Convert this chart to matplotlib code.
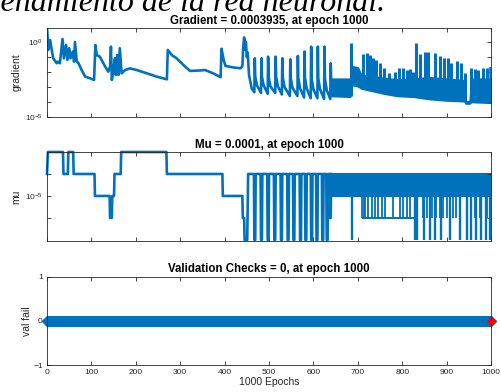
"""
Training state plot (gradient, mu, validation checks) - nntraintool style.
"""
import numpy as np
import matplotlib
matplotlib.use('Agg')
import matplotlib.pyplot as plt

plt.rcParams['font.family'] = ['Liberation Sans', 'DejaVu Sans']
plt.rcParams['mathtext.fontset'] = 'custom'
plt.rcParams['mathtext.rm'] = 'Liberation Sans'
plt.rcParams['mathtext.it'] = 'Liberation Sans:italic'
plt.rcParams['mathtext.bf'] = 'Liberation Sans:bold'

BLUE = '#0072BD'
GREY = '#262626'

# ---- gradient (log10 values) ----
grad_epoch = [0, 3, 7, 10, 14, 22, 25, 29, 35, 38, 43, 46, 50, 53, 58, 61, 63, 67, 71,
              78, 86, 97, 106, 109, 112, 119, 131, 138, 142, 144, 146, 149, 153, 155,
              158, 161, 164, 168, 176, 187, 202, 225, 247, 270, 272, 281, 292, 307,
              322, 345, 356, 375, 391, 393, 398, 402, 420, 436, 440, 442, 444, 446,
              448, 450, 452, 455, 461,
              467, 468, 469, 473, 482, 483, 484, 488, 497, 498, 499, 503, 514, 515,
              516, 520, 529, 530, 531, 535, 547, 548, 549, 553, 564, 565, 566, 570,
              579, 580, 581, 585, 594, 595, 596, 600, 609, 610, 611, 615, 624, 625,
              626, 630, 638, 639, 640]
grad_log = [1.02, -0.53, 0.13, -0.42, -1.09, -1.42, -1.31, -1.42, 0.2, -1.09, -0.2,
            -1.2, -0.42, -1.09, -0.64, -1.31, 0.0, -1.31, -1.42, -1.87, -2.31, -2.42,
            -2.53, -0.2, -0.87, -0.98, -1.64, -1.98, -1.64, -0.31, -2.53, -1.98, -1.09,
            -2.2, -0.87, -2.2, -0.42, -2.09, -1.87, -1.76, -1.87, -2.09, -2.31, -2.49,
            -0.53, -0.87, -1.09, -1.53, -1.93, -1.9, -1.87, -2.1, -2.35, -0.45, -1.2,
            -1.6, -1.7, -1.75, -1.6, -0.35, 0.3, -0.5, 0.0, -1.0, -0.7, -2.2, -3.1,
            -3.35, -1.09, -2.3, -2.9, -3.4, -1.09, -2.3, -2.9, -3.45, -0.98, -2.3,
            -2.95, -3.4, -0.98, -2.3, -2.95, -3.5, -1.09, -2.35, -3.0, -3.6, -1.16,
            -2.4, -3.05, -3.6, -0.93, -2.4, -3.1, -3.7, -0.64, -2.4, -3.1, -3.75,
            -0.31, -2.45, -3.15, -3.75, -0.31, -2.45, -3.15, -3.8, -0.31, -2.45,
            -3.2, -3.8, -1.42, -2.5]

# dense oscillation band after epoch 640
grad_band_epoch = [640, 683, 685, 700, 708, 760, 790, 825, 860, 900, 940, 943, 952, 955, 1000]
grad_band_hi = [-2.45, -2.45, -1.6, -1.7, -2.2, -2.4, -2.5, -2.45, -2.35, -2.45, -2.55,
                -3.95, -3.95, -2.45, -2.45]
grad_band_lo = [-3.6, -3.65, -2.85, -2.95, -3.1, -3.45, -3.6, -3.65, -3.8, -3.9, -3.95,
                -4.1, -4.1, -4.0, -4.05]

grad_spike_epoch = [684, 712, 720, 727, 735, 742, 751, 759, 771, 784, 793, 802, 810, 817,
                    825, 831, 840, 851, 859, 874, 885, 894, 904, 911, 923, 932, 941, 954,
                    964, 971, 983, 990, 999]
grad_spike_top = [-0.09, -0.82, -0.76, -0.87, -1.09, -1.2, -1.42, -1.76, -2.09, -1.98,
                  -1.76, -1.76, -1.87, -1.8, -1.98, -0.09, -0.82, -0.69, -0.69, -0.76,
                  -0.91, -1.09, -1.04, -1.42, -1.27, -1.42, -2.09, -1.71, -1.8, -1.87,
                  -1.76, -1.76, -1.76]
grad_spike_base = [-3.6, -3.1, -3.1, -3.15, -3.2, -3.25, -3.35, -3.4, -3.5, -3.55, -3.6,
                   -3.6, -3.6, -3.65, -3.65, -3.65, -3.7, -3.75, -3.75, -3.8, -3.85,
                   -3.9, -3.9, -3.9, -3.9, -3.95, -3.95, -4.0, -4.0, -4.0, -4.0, -4.05,
                   -4.05]
grad_last = (1000, -3.4)  # 0.0003935

# ---- mu (log10) ----
mu_epoch = [0, 2, 36, 37, 47, 48, 59, 60, 107, 108, 141, 142, 146, 147, 151, 152, 166,
            167, 269, 270, 395, 396, 440, 441, 444, 445, 451, 453]
mu_log = [-4, -3, -3, -4, -4, -3, -3, -4, -4, -5, -5, -6, -6, -5, -5, -4, -4, -3, -3,
          -4, -4, -5, -5, -6, -6, -7, -7, -4]
mu_dip_epoch = [466, 481, 496, 511, 526, 541, 554, 569, 581, 594, 606, 619, 629, 636]
mu_dip_depth = [-7, -7, -7, -7, -7, -7, -7, -7, -7, -7, -7, -7, -7, -6]
mu_band = (640, 1000)
mu_low6_span = (709, 829)
mu_dip6_epoch = [710, 713, 716, 724, 731, 739, 746, 754, 761, 780, 795, 802, 810, 818,
                 847, 856, 866, 877, 885, 892, 900, 907, 915, 922, 930, 956, 963, 975, 990]
mu_dip7_epoch = [686, 828, 834, 849, 862, 874, 888, 907, 930, 946, 956, 966, 977, 988, 997]

# ---- validation checks ----
val_epoch = np.arange(0, 1001)
val_fail = np.zeros(len(val_epoch))
best_epoch = 1000

W, H = 501, 392
fig = plt.figure(figsize=(W / 100, H / 100), dpi=100)


def axes_px(top, bottom, left=47, right=491):
    return fig.add_axes([left / W, 1 - bottom / H, (right - left) / W, (bottom - top) / H])


def style(ax):
    ax.set_xlim(0, 1000)
    ax.set_xticks(np.arange(0, 1001, 100))
    ax.tick_params(direction='in', top=True, right=True, length=3, width=0.6,
                   colors=GREY, labelsize=6, pad=3)
    for s in ax.spines.values():
        s.set_linewidth(0.6)
        s.set_color(GREY)


lw = 1.9
tpad = 3.2

# gradient
ax1 = axes_px(28, 117)
ax1.set_yscale('log')
ax1.plot(grad_epoch, 10 ** np.array(grad_log), color=BLUE, lw=lw)
ax1.fill_between(grad_band_epoch, 10 ** np.array(grad_band_lo), 10 ** np.array(grad_band_hi),
                 color=BLUE, lw=1.2, edgecolor=BLUE)
ax1.vlines(grad_spike_epoch, 10 ** np.array(grad_spike_base), 10 ** np.array(grad_spike_top),
           color=BLUE, lw=2.2)
ax1.plot([grad_spike_epoch[-1], grad_last[0]], [10 ** grad_spike_top[-1], 10 ** grad_last[1]],
         color=BLUE, lw=lw)
ax1.set_ylim(1e-5, 10 ** 0.93)
ax1.set_yticks([1e-5, 1e-4, 1e-3, 1e-2, 1e-1, 1e0],
               ['$10^{-5}$', '', '', '', '', '$10^{0}$'])
ax1.yaxis.set_minor_locator(matplotlib.ticker.NullLocator())
style(ax1)
ax1.set_xticklabels([])
ax1.set_ylabel('gradient', fontsize=7.5, color=GREY)
ax1.yaxis.set_label_coords(-0.057, 0.5)
ax1.set_title('Gradient = 0.0003935, at epoch 1000', fontsize=8.3, fontweight='bold',
              pad=tpad)

# mu
ax2 = axes_px(152, 241)
ax2.set_yscale('log')
x, y = list(mu_epoch), list(mu_log)
for d, depth in zip(mu_dip_epoch, mu_dip_depth):
    x += [d, d + 1, d + 3, d + 4]
    y += [-4, depth, depth, -4]
x += [mu_band[0]]
y += [-4]
ax2.plot(x, 10 ** np.array(y, dtype=float), color=BLUE, lw=lw, clip_on=False)
ax2.fill_between(mu_band, 1e-5, 1e-4, color=BLUE, lw=1.5, edgecolor=BLUE)
ax2.hlines(1e-6, *mu_low6_span, color=BLUE, lw=1.4)
ax2.vlines(mu_dip6_epoch, 1e-6, 1e-5, color=BLUE, lw=1.3)
ax2.vlines(mu_dip7_epoch, 1e-7, 1e-5, color=BLUE, lw=1.7, clip_on=False)
ax2.set_ylim(10 ** -7.05, 1e-3)
ax2.set_yticks([1e-6, 1e-5, 1e-4], ['', '$10^{-5}$', ''])
ax2.yaxis.set_minor_locator(matplotlib.ticker.NullLocator())
style(ax2)
ax2.set_xticklabels([])
ax2.set_ylabel('mu', fontsize=7.5, color=GREY)
ax2.yaxis.set_label_coords(-0.057, 0.5)
ax2.set_title('Mu = 0.0001, at epoch 1000', fontsize=8.3, fontweight='bold', pad=tpad)

# validation checks
ax3 = axes_px(276.7, 365)
ax3.plot(val_epoch, val_fail, color=BLUE, lw=lw, marker='D', ms=5.2, mew=0.8,
         mfc=BLUE, mec=BLUE, clip_on=False)
ax3.plot([best_epoch], [val_fail[-1]], 'D', color='red', ms=3.8, clip_on=False)
ax3.set_ylim(-1, 1)
ax3.set_yticks([-1, 0, 1])
style(ax3)
ax3.set_ylabel('val fail', fontsize=7.5, color=GREY)
ax3.yaxis.set_label_coords(-0.033, 0.5)
ax3.set_xlabel('1000 Epochs', fontsize=7.5, color=GREY)
ax3.xaxis.set_label_coords(0.5, -0.14)
ax3.set_title('Validation Checks = 0, at epoch 1000', fontsize=8.3, fontweight='bold',
              pad=tpad)

# caption text cut off by the top of the image
fig.text(385 / W, 1 - 11 / H, 'entrenamiento de la red neuronal.', ha='right',
         va='baseline', fontsize=23, style='italic', family='Liberation Serif')

fig.savefig('out.png', dpi=100)
